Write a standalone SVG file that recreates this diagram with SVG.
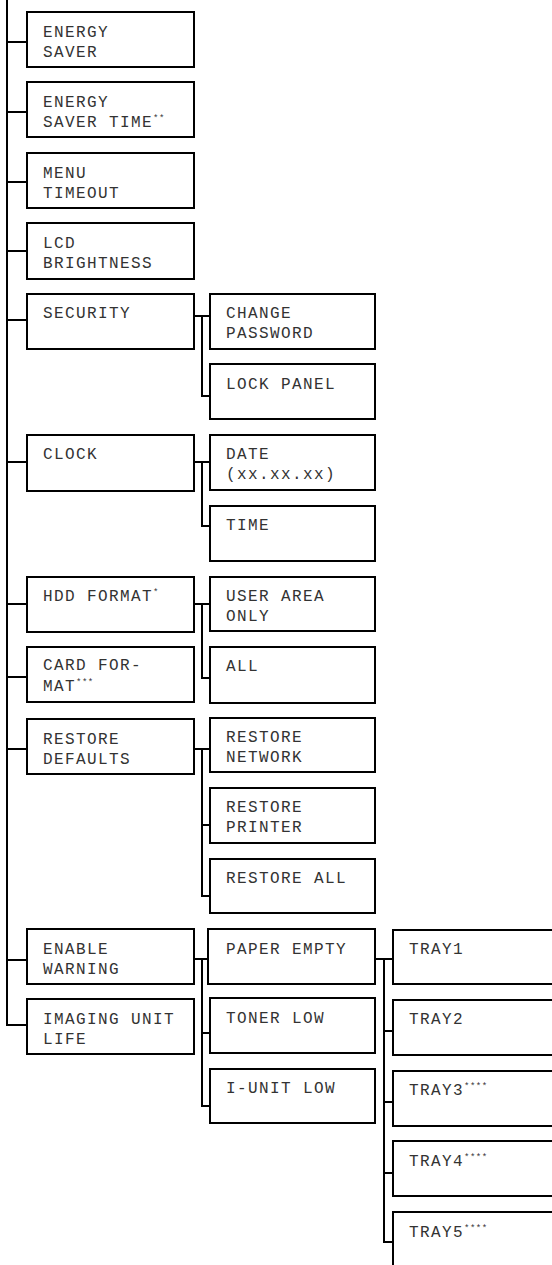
<svg xmlns="http://www.w3.org/2000/svg" width="552" height="1265" viewBox="0 0 552 1265">
<style>
.b{fill:#fff;stroke:#000;stroke-width:2}
.t{font-family:"Liberation Mono","Courier New",monospace;font-size:16px;letter-spacing:1.4px;fill:#333}
.s{font-size:9px;letter-spacing:0.5px}
.c{fill:none;stroke:#000;stroke-width:2}
</style>
<rect width="552" height="1265" fill="#fff"/>
<g id="connectors" class="c">
<path d="M7 0V1025H27M7 42H27M7 112H27M7 182H27M7 251H27M7 320H27M7 462H27M7 604H27M7 677H27M7 749H27M7 960H27"/>
<path d="M194 316H210M202 316V396H210"/>
<path d="M194 462H210M202 462V526H210"/>
<path d="M194 604H210M202 604V678H210"/>
<path d="M194 749H210M202 749V896H210M202 825H210"/>
<path d="M194 959H208M202 959V1106H210M202 1033H210"/>
<path d="M375 959H393M384 959V1242H393M384 1031H393M384 1102H393M384 1173H393"/>
</g>
<g id="n-energy-saver"><rect class="b" x="27" y="12" width="167" height="55"/><text class="t" x="43" y="37">ENERGY</text><text class="t" x="43" y="57">SAVER</text></g>
<g id="n-energy-saver-time"><rect class="b" x="27" y="82" width="167" height="55"/><text class="t" x="43" y="107">ENERGY</text><text class="t" x="43" y="127">SAVER TIME<tspan class="s" dy="-6">**</tspan></text></g>
<g id="n-menu-timeout"><rect class="b" x="27" y="153" width="167" height="55"/><text class="t" x="43" y="178">MENU</text><text class="t" x="43" y="198">TIMEOUT</text></g>
<g id="n-lcd"><rect class="b" x="27" y="223" width="167" height="56"/><text class="t" x="43" y="248">LCD</text><text class="t" x="43" y="268">BRIGHTNESS</text></g>
<g id="n-security"><rect class="b" x="27" y="294" width="167" height="55"/><text class="t" x="43" y="318">SECURITY</text></g>
<g id="n-clock"><rect class="b" x="27" y="435" width="167" height="56"/><text class="t" x="43" y="459">CLOCK</text></g>
<g id="n-hdd"><rect class="b" x="27" y="577" width="167" height="55"/><text class="t" x="43" y="601">HDD FORMAT<tspan class="s" dy="-6">*</tspan></text></g>
<g id="n-card"><rect class="b" x="27" y="647" width="167" height="55"/><text class="t" x="43" y="670">CARD FOR-</text><text class="t" x="43" y="691">MAT<tspan class="s" dy="-6">***</tspan></text></g>
<g id="n-restore-defaults"><rect class="b" x="27" y="719" width="167" height="55"/><text class="t" x="43" y="744">RESTORE</text><text class="t" x="43" y="764">DEFAULTS</text></g>
<g id="n-enable-warning"><rect class="b" x="27" y="929" width="167" height="55"/><text class="t" x="43" y="954">ENABLE</text><text class="t" x="43" y="974">WARNING</text></g>
<g id="n-imaging"><rect class="b" x="27" y="999" width="167" height="55"/><text class="t" x="43" y="1024">IMAGING UNIT</text><text class="t" x="43" y="1044">LIFE</text></g>
<g id="n-change-password"><rect class="b" x="210" y="294" width="165" height="55"/><text class="t" x="226" y="318">CHANGE</text><text class="t" x="226" y="338">PASSWORD</text></g>
<g id="n-lock-panel"><rect class="b" x="210" y="364" width="165" height="55"/><text class="t" x="226" y="389">LOCK PANEL</text></g>
<g id="n-date"><rect class="b" x="210" y="435" width="165" height="55"/><text class="t" x="226" y="459">DATE</text><text class="t" x="226" y="479">(xx.xx.xx)</text></g>
<g id="n-time"><rect class="b" x="210" y="506" width="165" height="55"/><text class="t" x="226" y="530">TIME</text></g>
<g id="n-user-area"><rect class="b" x="210" y="577" width="165" height="54"/><text class="t" x="226" y="601">USER AREA</text><text class="t" x="226" y="621">ONLY</text></g>
<g id="n-all"><rect class="b" x="210" y="647" width="165" height="56"/><text class="t" x="226" y="671">ALL</text></g>
<g id="n-restore-network"><rect class="b" x="210" y="718" width="165" height="54"/><text class="t" x="226" y="742">RESTORE</text><text class="t" x="226" y="762">NETWORK</text></g>
<g id="n-restore-printer"><rect class="b" x="210" y="788" width="165" height="55"/><text class="t" x="226" y="812">RESTORE</text><text class="t" x="226" y="832">PRINTER</text></g>
<g id="n-restore-all"><rect class="b" x="210" y="859" width="165" height="54"/><text class="t" x="226" y="883">RESTORE ALL</text></g>
<g id="n-paper-empty"><rect class="b" x="208" y="929" width="167" height="55"/><text class="t" x="226" y="954">PAPER EMPTY</text></g>
<g id="n-toner-low"><rect class="b" x="210" y="998" width="165" height="55"/><text class="t" x="226" y="1023">TONER LOW</text></g>
<g id="n-iunit-low"><rect class="b" x="210" y="1069" width="165" height="54"/><text class="t" x="226" y="1093">I-UNIT LOW</text></g>
<g id="n-tray1"><rect class="b" x="393" y="930" width="200" height="54"/><text class="t" x="409" y="954">TRAY1</text></g>
<g id="n-tray2"><rect class="b" x="393" y="1000" width="200" height="55"/><text class="t" x="409" y="1024">TRAY2</text></g>
<g id="n-tray3"><rect class="b" x="393" y="1071" width="200" height="55"/><text class="t" x="409" y="1095">TRAY3<tspan class="s" dy="-6">****</tspan></text></g>
<g id="n-tray4"><rect class="b" x="393" y="1141" width="200" height="55"/><text class="t" x="409" y="1166">TRAY4<tspan class="s" dy="-6">****</tspan></text></g>
<g id="n-tray5"><rect class="b" x="393" y="1212" width="200" height="70"/><text class="t" x="409" y="1237">TRAY5<tspan class="s" dy="-6">****</tspan></text></g>
</svg>
